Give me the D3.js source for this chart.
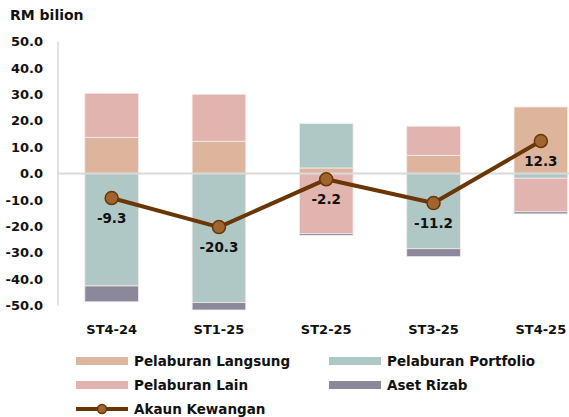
<!DOCTYPE html>
<html>
<head>
<meta charset="utf-8">
<script src="https://cdn.jsdelivr.net/npm/d3@7"></script>
<style>
  html, body { margin: 0; padding: 0; background: #fff; }
  svg { display: block; font-family: "DejaVu Sans", sans-serif; font-weight: bold; }
</style>
</head>
<body>
<svg id="chart" width="569" height="417"></svg>
<script>
const categories = ["ST4-24", "ST1-25", "ST2-25", "ST3-25", "ST4-25"];
const langsung  = [13.7, 12.2, 2.1, 6.9, 25.2];
const portfolio = [-42.6, -48.9, 16.8, -28.5, -1.8];
const lain      = [16.7, 17.8, -22.7, 11.0, -12.7];
const rizab     = [-6.0, -2.8, -0.7, -3.0, -0.8];
const akaun     = [-9.3, -20.3, -2.2, -11.2, 12.3];
const yTicks    = [50, 40, 30, 20, 10, 0, -10, -20, -30, -40, -50];

const seriesKeys = ["langsung", "portfolio", "lain", "rizab"];
const seriesNames = {langsung: "Pelaburan Langsung", portfolio: "Pelaburan Portfolio", lain: "Pelaburan Lain", rizab: "Aset Rizab"};
const colors = {langsung: "#ddb59d", portfolio: "#b0c8c5", lain: "#e2b4af", rizab: "#8b889b"};
const lineColor = "#6b3606";
const pointFill = "#a0642f";

const fmt = v => d3.format(".1f")(v).replace("\u2212", "-");

const table = categories.map((c, i) => ({cat: c, langsung: langsung[i], portfolio: portfolio[i], lain: lain[i], rizab: rizab[i], akaun: akaun[i]}));

const svg = d3.select("#chart");
const x = d3.scaleBand().domain(categories).range([58, 594.5]).paddingInner(0.5).paddingOuter(0.25);
const y = d3.scaleLinear().domain([-50, 50]).range([305.5, 41.5]);

const stacked = d3.stack().keys(seriesKeys).offset(d3.stackOffsetDiverging)(table);

// bars
svg.append("g").selectAll("g").data(stacked).join("g")
  .attr("fill", d => colors[d.key])
  .selectAll("rect").data(d => d).join("rect")
  .attr("x", d => x(d.data.cat))
  .attr("width", x.bandwidth())
  .attr("y", d => y(Math.max(d[0], d[1])))
  .attr("height", d => Math.abs(y(d[0]) - y(d[1])))
  .attr("stroke", "#f4ece8").attr("stroke-width", 0.8);

// y axis line
svg.append("line").attr("x1", 58).attr("x2", 58).attr("y1", y(50)).attr("y2", y(-50))
  .attr("stroke", "#c4c4c4").attr("stroke-width", 1);
// zero line
svg.append("line").attr("x1", 58).attr("x2", 569).attr("y1", y(0)).attr("y2", y(0))
  .attr("stroke", "#d9d9d9").attr("stroke-width", 2);

// y tick labels
svg.append("g").selectAll("text").data(yTicks).join("text")
  .attr("x", 43).attr("y", d => y(d)).attr("dy", "0.36em")
  .attr("text-anchor", "end").attr("font-size", 13).attr("fill", "#111")
  .text(d => fmt(d));

// title
svg.append("text").attr("x", 10).attr("y", 20).attr("font-size", 14).attr("fill", "#111").text("RM bilion");

// x labels
svg.append("g").selectAll("text").data(categories).join("text")
  .attr("x", d => x(d) + x.bandwidth() / 2).attr("y", 333.5)
  .attr("text-anchor", "middle").attr("font-size", 13).attr("fill", "#111")
  .text(d => d);

// line
const line = d3.line().x(d => x(d.cat) + x.bandwidth() / 2).y(d => y(d.akaun));
svg.append("path").datum(table).attr("d", line).attr("fill", "none")
  .attr("stroke", lineColor).attr("stroke-width", 4).attr("stroke-linejoin", "round");
svg.append("g").selectAll("circle").data(table).join("circle")
  .attr("cx", d => x(d.cat) + x.bandwidth() / 2).attr("cy", d => y(d.akaun)).attr("r", 6.5)
  .attr("fill", pointFill).attr("stroke", lineColor).attr("stroke-width", 1.5);
svg.append("g").selectAll("text").data(table).join("text")
  .attr("x", d => x(d.cat) + x.bandwidth() / 2).attr("y", d => y(d.akaun) + 25)
  .attr("text-anchor", "middle").attr("font-size", 13.5).attr("fill", "#111")
  .text(d => fmt(d.akaun));

// legend
const legend = [
  {key: "langsung", col: 0, row: 0},
  {key: "portfolio", col: 1, row: 0},
  {key: "lain", col: 0, row: 1},
  {key: "rizab", col: 1, row: 1}
];
const lg = svg.append("g");
legend.forEach(l => {
  const lx = l.col === 0 ? 76 : 329;
  const ly = 361 + l.row * 24;
  lg.append("rect").attr("x", lx).attr("y", ly - 4).attr("width", 52).attr("height", 8).attr("fill", colors[l.key]);
  lg.append("text").attr("x", lx + 58).attr("y", ly).attr("dy", "0.36em").attr("font-size", 13.5).attr("fill", "#111").text(seriesNames[l.key]);
});
const ly3 = 409;
lg.append("line").attr("x1", 76).attr("x2", 128).attr("y1", ly3).attr("y2", ly3).attr("stroke", lineColor).attr("stroke-width", 4);
lg.append("circle").attr("cx", 102).attr("cy", ly3).attr("r", 4.5).attr("fill", pointFill).attr("stroke", lineColor).attr("stroke-width", 1.5);
lg.append("text").attr("x", 134).attr("y", ly3).attr("dy", "0.36em").attr("font-size", 13.5).attr("fill", "#111").text("Akaun Kewangan");
</script>
</body>
</html>
